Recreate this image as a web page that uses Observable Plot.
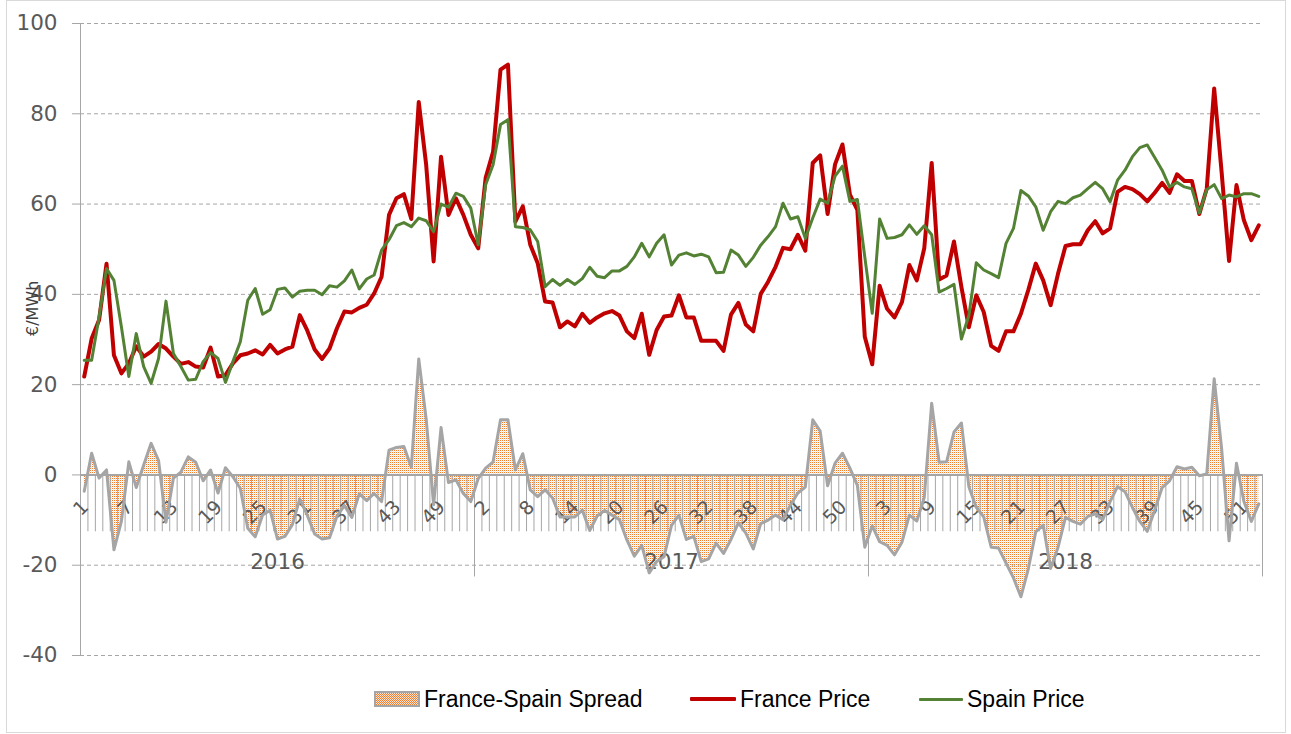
<!DOCTYPE html>
<html>
<head>
<meta charset="utf-8">
<script src="https://cdn.jsdelivr.net/npm/d3@7"></script>
<script src="https://cdn.jsdelivr.net/npm/@observablehq/plot@0.6"></script>
<style>
  body { margin: 0; background: #fff; }
  #wrap { position: relative; width: 1291px; height: 734px; overflow: hidden; background: #fff; }
  #border { position: absolute; left: 6px; top: 0; width: 1278px; height: 731px; border: 1px solid #d9d9d9; pointer-events: none; }
  #chart { position: absolute; left: 0; top: 0; }
  #legend { position: absolute; left: 0; top: 672px; width: 1291px; height: 62px;
            font-family: "Liberation Sans", Arial, sans-serif; font-size: 23px; color: #000; }
  .item { position: absolute; top: 14px; height: 26px; line-height: 26px; display: flex; align-items: center; white-space: nowrap; }
  .line { display: inline-block; }
  .swatch { display: inline-block; width: 42px; height: 12px; border: 2px solid #a5a5a5; margin-right: 4px;
            background-color: #fff;
            background-image: repeating-conic-gradient(#ED7D31 0 25%, #fce4d6 0 50%);
            background-size: 2px 2px; }
</style>
</head>
<body>
<div id="wrap">
  <div id="chart"></div>
  <div id="legend"></div>
  <div id="border"></div>
</div>
<script>
// ---------- data (weekly, 2016–2018) ----------
const years = ["2016", "2017", "2018"];
const weeksPerYear = [53, 53, 53];
const weekLabels = [1, 7, 13, 19, 25, 31, 37, 43, 49,
                    2, 8, 14, 20, 26, 32, 38, 44, 50,
                    3, 9, 15, 21, 27, 33, 39, 45, 51];
const yTicks = [-40, -20, 0, 20, 40, 60, 80, 100];
const gridValues = [-40, -20, 20, 40, 60, 80, 100];

const francePrice = [
  21.8,30.2,34.3,46.8,26.5,22.5,24.7,28.5,26.2,27.3,
  29,28,26.2,24.6,25,24,23.8,28.2,21.8,22.1,
  24.7,26.5,26.9,27.6,26.7,28.8,26.9,27.8,28.4,35.4,
  32,27.8,25.7,28,32.5,36.2,36,37,37.7,40.2,
  43.9,57.6,61.3,62.2,56.7,82.6,68.7,47.3,70.5,57.6,
  61.3,57.6,53.2,50.2,65.8,71.6,89.8,90.9,56.1,59.5,
  51,46.9,38.4,38.2,32.7,34,32.9,35.7,33.7,34.9,
  35.8,36.3,35.3,31.8,30.3,35.7,26.6,32.1,35.1,35.3,
  39.8,34.9,34.9,29.7,29.7,29.7,27.5,35.5,38.1,33.3,
  31.8,40.1,42.8,46.1,50.3,50,53.2,49.7,69.1,70.8,
  57.8,68.8,73.2,62.1,58.7,30.6,24.5,41.9,36.8,34.9,
  38.3,46.5,43.1,50.2,69.1,43.3,44.2,51.7,41.6,32.7,
  39.8,36.1,28.6,27.5,31.8,31.8,35.7,41,46.8,43.1,
  37.6,44.6,50.7,51.1,51.1,54.2,56.2,53.5,54.6,62.7,
  63.8,63.3,62.2,60.6,62.5,64.7,62.5,66.6,65.1,65.1,
  57.8,63.4,85.6,67.1,47.4,64.2,56.4,52,55.3
];

const spainPrice = [
  25.4,25.4,35,45.7,43.1,32.8,21.8,31.3,24,20.3,
  25.8,38.5,26.9,24,21,21.2,25.1,27.1,25.8,20.5,
  25.1,29.5,38.7,41.3,35.6,36.6,41.1,41.4,39.4,40.7,
  40.9,40.9,39.9,41.9,41.6,43,45.4,41.2,43.4,44.3,
  49.8,52.1,55.2,55.9,55,56.9,56.3,53.9,60,59.3,
  62.4,61.7,59.1,51,64.3,68.7,77.6,78.7,55,54.8,
  54.3,51.7,41.7,43.3,42,43.3,42.2,43.5,46,44,
  43.7,45.2,45.2,46.2,48.3,51.3,48.3,51.3,53.2,46.5,
  48.7,49.2,48.5,48.9,48.3,44.8,44.9,49.8,48.7,46.2,
  48.2,50.9,52.8,55,60.2,56.7,57.2,52.4,56.9,61.1,
  60.2,66.2,68.4,60.6,61,48.3,35.8,56.7,52.4,52.6,
  53.2,55.4,53.3,55.2,53.2,40.5,41.3,42.2,30.1,35.3,
  47,45.4,44.6,43.7,51.3,54.6,63,61.8,59.4,54.2,
  58.3,60.6,60.1,61.4,62,63.4,64.8,63.4,60.5,65.3,
  67.5,70.5,72.5,73.1,70.3,67.5,63.8,64.8,63.8,63.4,
  58,63.2,64.3,61.2,62,61.6,62.3,62.3,61.7
];

const spreadValues = [
  -3.6,4.8,-0.7,1.1,-16.6,-10.3,2.9,-2.8,2.2,7.0,
  3.2,-10.5,-0.7,0.6,4.0,2.8,-1.3,1.1,-4.0,1.6,
  -0.4,-3.0,-11.8,-13.7,-8.9,-7.8,-14.2,-13.6,-11.0,-5.3,
  -8.9,-13.1,-14.2,-13.9,-9.1,-6.8,-9.4,-4.2,-5.7,-4.1,
  -5.9,5.5,6.1,6.3,1.7,25.7,12.4,-6.6,10.5,-1.7,
  -1.1,-4.1,-5.9,-0.8,1.5,2.9,12.2,12.2,1.1,4.7,
  -3.3,-4.8,-3.3,-5.1,-9.3,-9.3,-9.3,-7.8,-12.3,-9.1,
  -7.9,-8.9,-9.9,-14.4,-18.0,-15.6,-21.7,-19.2,-18.1,-11.2,
  -8.9,-14.3,-13.6,-19.2,-18.6,-15.1,-17.4,-14.3,-10.6,-12.9,
  -16.4,-10.8,-10.0,-8.9,-9.9,-6.7,-4.0,-2.7,12.2,9.7,
  -2.4,2.6,4.8,1.5,-2.3,-16.0,-11.3,-14.8,-15.6,-17.7,
  -14.9,-8.9,-10.2,-5.0,15.9,2.8,2.9,9.5,11.5,-2.6,
  -7.2,-9.3,-16.0,-16.2,-19.5,-22.8,-27.0,-20.8,-12.6,-11.1,
  -20.7,-16.0,-9.4,-10.3,-10.9,-9.2,-8.6,-9.9,-5.9,-2.6,
  -3.7,-7.2,-10.3,-12.5,-7.8,-2.8,-1.3,1.8,1.3,1.7,
  -0.2,0.2,21.3,5.9,-14.6,2.6,-5.9,-10.3,-6.4
];

// ---------- derived tables ----------
const rows = francePrice.map((f, i) => ({x: i + 0.5, france: f, spain: spainPrice[i], spread: spreadValues[i]}));

const yearStarts = [];
let acc = 0;
for (const w of weeksPerYear) { yearStarts.push(acc); acc += w; }
const yearBounds = [...yearStarts, acc];
const catBounds = d3.range(0, acc + 1);
const yearRows = years.map((y, k) => ({x: yearStarts[k] + weeksPerYear[k] / 2, label: y}));
const weekRows = weekLabels.map((w, k) => ({x: k * 6 + 0.5, label: String(w)}));

const gray = "#a6a6a6";
const textGray = "#595959";

const chart = Plot.plot({
  width: 1291,
  height: 672,
  marginLeft: 80,
  marginRight: 29,
  marginTop: 23,
  marginBottom: 17,
  x: {domain: [0, acc], axis: null},
  y: {domain: [-40, 100], axis: null},
  style: {fontFamily: "'DejaVu Sans', sans-serif", fontSize: "18px", color: textGray, background: "transparent", overflow: "visible"},
  marks: [
    Plot.ruleY(gridValues, {x1: 0, x2: acc, stroke: gray, strokeWidth: 1, strokeDasharray: "4,3"}),
    Plot.areaY(rows, {x: "x", y: "spread", fill: "url(#dots)"}),
    Plot.ruleX(catBounds, {x: d => d, y1: 0, y2: -12.6, stroke: gray, strokeWidth: 1}),
    Plot.ruleX(yearBounds, {x: d => d, y1: 0, y2: -22.6, stroke: gray, strokeWidth: 1}),
    Plot.ruleX([0], {y1: -40, y2: 100, stroke: gray, strokeWidth: 1}),
    Plot.ruleY([0], {x1: 0, x2: acc, stroke: gray, strokeWidth: 2}),
    Plot.axisY({ticks: yTicks, tickSize: 8, tickPadding: 15, tickFormat: d => String(d),
                fontSize: 21.5, stroke: gray, color: textGray, label: null}),
    Plot.text(weekRows, {x: "x", y: 0, text: "label", rotate: -45, textAnchor: "end",
                         dx: 1, dy: 29, fontSize: 19, fill: textGray}),
    Plot.text(yearRows, {x: "x", y: 0, text: "label", dy: 87, fontSize: 21.5, fill: textGray}),
    Plot.text(["€/MWh"], {x: 0, y: 40, text: d => d, rotate: -90, dx: -48, dy: 14,
                          fontSize: 16, fill: "#404040"}),
    Plot.lineY(rows, {x: "x", y: "spread", stroke: "#a5a5a5", strokeWidth: 3, strokeLinejoin: "round"}),
    Plot.lineY(rows, {x: "x", y: "france", stroke: "#c00000", strokeWidth: 4, strokeLinejoin: "round"}),
    Plot.lineY(rows, {x: "x", y: "spain", stroke: "#548235", strokeWidth: 3, strokeLinejoin: "round"})
  ]
});

const patternDef = `<pattern id="dots" width="2" height="2" patternUnits="userSpaceOnUse">
  <rect x="0" y="0" width="1" height="1" fill="#ED7D31"/>
  <rect x="1" y="1" width="1" height="1" fill="#FCE4D6"/>
</pattern>`;
const defs = document.createElementNS("http://www.w3.org/2000/svg", "defs");
defs.innerHTML = patternDef;
chart.insertBefore(defs, chart.firstChild);
document.getElementById("chart").appendChild(chart);

// ---------- legend ----------
const legendItems = [
  {label: "France-Spain Spread", kind: "area", left: 374},
  {label: "France Price", kind: "line", color: "#c00000", width: 46, thick: 4, left: 690},
  {label: "Spain Price", kind: "line", color: "#548235", width: 44, thick: 3, left: 919}
];
const legend = document.getElementById("legend");
for (const it of legendItems) {
  const div = document.createElement("div");
  div.className = "item";
  div.style.left = it.left + "px";
  if (it.kind === "area") {
    div.innerHTML = `<span class="swatch"></span><span>${it.label}</span>`;
  } else {
    div.innerHTML = `<span class="line" style="width:${it.width}px;height:${it.thick}px;background:${it.color};border-radius:1px;margin-right:4px"></span><span>${it.label}</span>`;
  }
  legend.appendChild(div);
}
</script>
</body>
</html>
